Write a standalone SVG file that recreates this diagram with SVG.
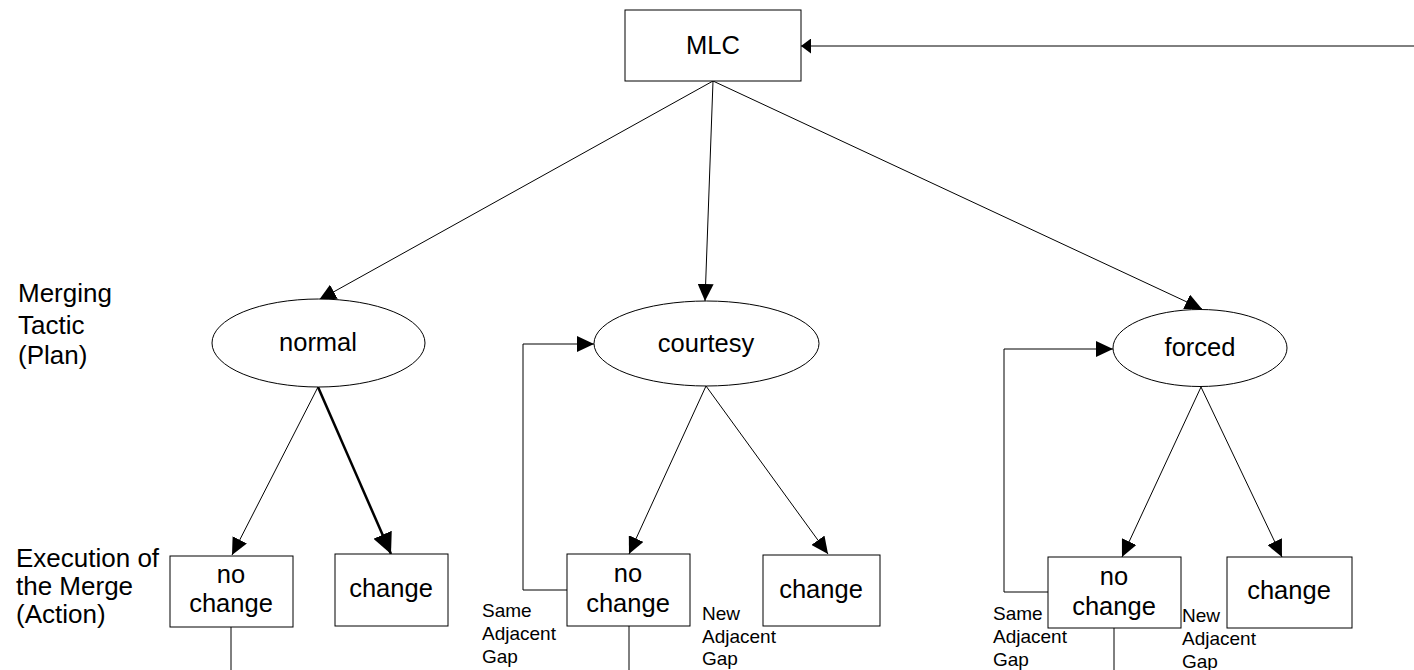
<svg xmlns="http://www.w3.org/2000/svg" width="1414" height="670" viewBox="0 0 1414 670">
<style>
text{font-family:"Liberation Sans",Arial,sans-serif;fill:#000}
.t{font-size:25.5px;text-anchor:middle}
.l{font-size:26px}
.s{font-size:19px}
.n{fill:#fff;stroke:#000;stroke-width:1}
.c{fill:none;stroke:#000;stroke-width:1}
.k{fill:none;stroke:#000;stroke-width:2.5}
</style>
<defs>
<marker id="a" markerUnits="userSpaceOnUse" markerWidth="17" markerHeight="16" refX="17" refY="8" orient="auto"><path d="M0,0L17,8L0,16z" fill="#000"/></marker>
<marker id="b" markerUnits="userSpaceOnUse" markerWidth="21" markerHeight="20" refX="21" refY="10" orient="auto"><path d="M0,0L21,10L0,20z" fill="#000"/></marker>
<marker id="m" markerUnits="userSpaceOnUse" markerWidth="10" markerHeight="15" refX="10" refY="7.5" orient="auto"><path d="M0,0L10,7.5L0,15z" fill="#000"/></marker>
</defs>
<rect width="1414" height="670" fill="#fff"/>
<g id="connectors">
<line class="c" x1="1414" y1="46" x2="801" y2="46" marker-end="url(#m)"/>
<line class="c" x1="713" y1="81" x2="319" y2="300" marker-end="url(#a)"/>
<line class="c" x1="713" y1="81" x2="705" y2="301" marker-end="url(#a)"/>
<line class="c" x1="713" y1="81" x2="1202" y2="309" marker-end="url(#a)"/>
<line class="c" x1="318" y1="387" x2="232" y2="555" marker-end="url(#a)"/>
<line class="k" x1="318" y1="387" x2="391" y2="554" marker-end="url(#b)"/>
<line class="c" x1="706" y1="386" x2="629" y2="554" marker-end="url(#a)"/>
<line class="c" x1="706" y1="386" x2="828" y2="554" marker-end="url(#a)"/>
<line class="c" x1="1201" y1="387" x2="1122" y2="557" marker-end="url(#a)"/>
<line class="c" x1="1201" y1="387" x2="1282" y2="557" marker-end="url(#a)"/>
<polyline class="c" points="567,590 523,590 523,344 594,344" marker-end="url(#a)"/>
<polyline class="c" points="1048,592 1004,592 1004,349 1113,349" marker-end="url(#a)"/>
<line class="c" x1="231" y1="627" x2="231" y2="670"/>
<line class="c" x1="629" y1="626" x2="629" y2="670"/>
<line class="c" x1="1114" y1="628" x2="1114" y2="670"/>
</g>
<g id="mlc"><rect class="n" x="625" y="10" width="176" height="71"/><text class="t" x="713" y="54">MLC</text></g>
<g id="normal"><ellipse class="n" cx="318.5" cy="343" rx="106.5" ry="44"/><text class="t" x="318" y="351">normal</text></g>
<g id="courtesy"><ellipse class="n" cx="706.5" cy="343.5" rx="112.5" ry="42.5"/><text class="t" x="706" y="352">courtesy</text></g>
<g id="forced"><ellipse class="n" cx="1200" cy="348" rx="87" ry="38.5"/><text class="t" x="1200" y="356">forced</text></g>
<g id="normal-nochange"><rect class="n" x="170" y="556" width="123" height="71"/><text class="t" x="231" y="583">no</text><text class="t" x="231" y="612">change</text></g>
<g id="normal-change"><rect class="n" x="335" y="554" width="113" height="72"/><text class="t" x="391" y="597">change</text></g>
<g id="courtesy-nochange"><rect class="n" x="567" y="554" width="123" height="72"/><text class="t" x="628" y="582">no</text><text class="t" x="628" y="612">change</text></g>
<g id="courtesy-change"><rect class="n" x="763" y="555" width="117" height="71"/><text class="t" x="821" y="598">change</text></g>
<g id="forced-nochange"><rect class="n" x="1048" y="557" width="133" height="71"/><text class="t" x="1114" y="585">no</text><text class="t" x="1114" y="615">change</text></g>
<g id="forced-change"><rect class="n" x="1227" y="557" width="125" height="71"/><text class="t" x="1289" y="599">change</text></g>
<g id="label-plan"><text class="l" x="18" y="302">Merging</text><text class="l" x="18" y="334">Tactic</text><text class="l" x="18" y="364">(Plan)</text></g>
<g id="label-action"><text class="l" x="16" y="567">Execution of</text><text class="l" x="16" y="595">the Merge</text><text class="l" x="16" y="623">(Action)</text></g>
<g id="labels-courtesy">
<text class="s" x="482" y="617">Same</text><text class="s" x="482" y="640">Adjacent</text><text class="s" x="482" y="663">Gap</text>
<text class="s" x="702" y="620">New</text><text class="s" x="702" y="643">Adjacent</text><text class="s" x="702" y="665">Gap</text>
</g>
<g id="labels-forced">
<text class="s" x="993" y="620">Same</text><text class="s" x="993" y="643">Adjacent</text><text class="s" x="993" y="666">Gap</text>
<text class="s" x="1182" y="622">New</text><text class="s" x="1182" y="645">Adjacent</text><text class="s" x="1182" y="668">Gap</text>
</g>
</svg>
